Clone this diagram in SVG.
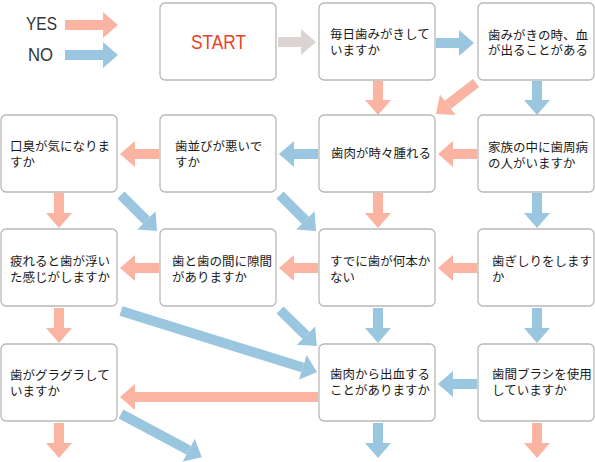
<svg xmlns="http://www.w3.org/2000/svg" width="595" height="462" viewBox="0 0 595 462">
<style>
.box{fill:#fff;stroke:#b8b8b8;stroke-width:1.3}
.t{font-family:"Noto Sans CJK JP","Noto Sans CJK SC",sans-serif;font-size:12.5px;fill:#1a1a1a}
.lg{font-family:"Liberation Sans",Arial,sans-serif;font-size:18.5px;fill:#333}
.yes{stroke:#fbb4a2;stroke-width:10;fill:none;marker-end:url(#hy)}
.no{stroke:#9bc6df;stroke-width:10;fill:none;marker-end:url(#hn)}
.gr{stroke:#dcd3d3;stroke-width:10;fill:none;marker-end:url(#hg)}
</style>
<defs>
<marker id="hy" viewBox="0 0 15 26" refX="0" refY="13" markerWidth="15" markerHeight="26" markerUnits="userSpaceOnUse" orient="auto"><path d="M0,0 L15,13 L0,26 Z" fill="#fbb4a2"/></marker>
<marker id="hn" viewBox="0 0 15 26" refX="0" refY="13" markerWidth="15" markerHeight="26" markerUnits="userSpaceOnUse" orient="auto"><path d="M0,0 L15,13 L0,26 Z" fill="#9bc6df"/></marker>
<marker id="hg" viewBox="0 0 15 26" refX="0" refY="13" markerWidth="15" markerHeight="26" markerUnits="userSpaceOnUse" orient="auto"><path d="M0,0 L15,13 L0,26 Z" fill="#dcd3d3"/></marker>
</defs>
<rect width="595" height="462" fill="#fff"/>
<g id="legend">
<text class="lg" x="26" y="30" textLength="31" lengthAdjust="spacingAndGlyphs">YES</text>
<text class="lg" x="28" y="60.5" textLength="25" lengthAdjust="spacingAndGlyphs">NO</text>
<line class="yes" x1="65" y1="25" x2="103" y2="25"/>
<line class="no" x1="65" y1="55" x2="103" y2="55"/>
</g>
<g id="connectors">
<line class="gr" x1="278" y1="42" x2="301" y2="42"/>
<line class="no" x1="436" y1="43" x2="459" y2="43"/>
<line class="yes" x1="378" y1="81" x2="378" y2="100"/>
<line class="yes" x1="476" y1="83" x2="447.9" y2="104.8"/>
<line class="no" x1="537" y1="81" x2="537" y2="100"/>
<line class="yes" x1="477" y1="154" x2="453" y2="154"/>
<line class="no" x1="318" y1="154" x2="294" y2="154"/>
<line class="yes" x1="159" y1="154" x2="135" y2="154"/>
<line class="yes" x1="59" y1="193" x2="59" y2="213"/>
<line class="no" x1="121" y1="195" x2="146.4" y2="220.4"/>
<line class="no" x1="280" y1="195" x2="305.4" y2="220.4"/>
<line class="yes" x1="378" y1="193" x2="378" y2="213"/>
<line class="no" x1="537" y1="193" x2="537" y2="213"/>
<line class="yes" x1="477" y1="268" x2="453" y2="268"/>
<line class="yes" x1="318" y1="268" x2="294" y2="268"/>
<line class="yes" x1="159" y1="268" x2="135" y2="268"/>
<line class="yes" x1="59" y1="308" x2="59" y2="328"/>
<line class="no" x1="121" y1="311" x2="302.7" y2="367.5"/>
<line class="no" x1="280" y1="310" x2="306" y2="335.4"/>
<line class="no" x1="378" y1="308" x2="378" y2="328"/>
<line class="no" x1="537" y1="308" x2="537" y2="328"/>
<line class="no" x1="477" y1="384" x2="453" y2="384"/>
<line class="yes" x1="318" y1="397" x2="135" y2="397"/>
<line class="yes" x1="59" y1="423" x2="59" y2="443"/>
<line class="no" x1="121" y1="414" x2="188.6" y2="450.2"/>
<line class="no" x1="378" y1="423" x2="378" y2="443"/>
<line class="yes" x1="537" y1="423" x2="537" y2="443"/>
</g>
<g id="start"><rect class="box" x="160" y="3" width="116" height="77" rx="5"/><text x="191" y="48.5" font-family="Liberation Sans, Arial, sans-serif" font-size="21" fill="#e6432b" textLength="55" lengthAdjust="spacingAndGlyphs">START</text></g>
<g id="n1"><rect class="box" x="319" y="3" width="116" height="77" rx="5"/><text class="t"><tspan x="330" y="38.5">毎日歯みがきして</tspan><tspan x="330" y="54.5">いますか</tspan></text></g>
<g id="n2"><rect class="box" x="478" y="3" width="116" height="77" rx="5"/><text class="t"><tspan x="488" y="39.5">歯みがきの時、血</tspan><tspan x="488" y="55">が出ることがある</tspan></text></g>
<g id="n3"><rect class="box" x="1" y="115" width="116" height="77" rx="5"/><text class="t"><tspan x="10" y="151">口臭が気になりま</tspan><tspan x="10" y="167">すか</tspan></text></g>
<g id="n4"><rect class="box" x="160" y="115" width="116" height="77" rx="5"/><text class="t"><tspan x="175" y="151">歯並びが悪いで</tspan><tspan x="175" y="167">すか</tspan></text></g>
<g id="n5"><rect class="box" x="319" y="115" width="116" height="77" rx="5"/><text class="t" x="331" y="158">歯肉が時々腫れる</text></g>
<g id="n6"><rect class="box" x="478" y="115" width="116" height="77" rx="5"/><text class="t"><tspan x="488" y="151.5">家族の中に歯周病</tspan><tspan x="488" y="167.5">の人がいますか</tspan></text></g>
<g id="n7"><rect class="box" x="1" y="229" width="116" height="77" rx="5"/><text class="t"><tspan x="10" y="265.5">疲れると歯が浮い</tspan><tspan x="10" y="281.5">た感じがしますか</tspan></text></g>
<g id="n8"><rect class="box" x="160" y="229" width="116" height="77" rx="5"/><text class="t"><tspan x="172" y="265.5">歯と歯の間に隙間</tspan><tspan x="172" y="281.5">がありますか</tspan></text></g>
<g id="n9"><rect class="box" x="319" y="229" width="116" height="77" rx="5"/><text class="t"><tspan x="330" y="265.5">すでに歯が何本か</tspan><tspan x="330" y="281.5">ない</tspan></text></g>
<g id="n10"><rect class="box" x="478" y="229" width="116" height="77" rx="5"/><text class="t"><tspan x="492" y="265.5">歯ぎしりをします</tspan><tspan x="492" y="281.5">か</tspan></text></g>
<g id="n11"><rect class="box" x="1" y="344" width="116" height="77" rx="5"/><text class="t"><tspan x="10" y="379.5">歯がグラグラして</tspan><tspan x="10" y="395.5">いますか</tspan></text></g>
<g id="n12"><rect class="box" x="319" y="344" width="116" height="77" rx="5"/><text class="t"><tspan x="330" y="379">歯肉から出血する</tspan><tspan x="330" y="395">ことがありますか</tspan></text></g>
<g id="n13"><rect class="box" x="478" y="344" width="116" height="77" rx="5"/><text class="t"><tspan x="492" y="379">歯間ブラシを使用</tspan><tspan x="492" y="395">していますか</tspan></text></g>
</svg>
